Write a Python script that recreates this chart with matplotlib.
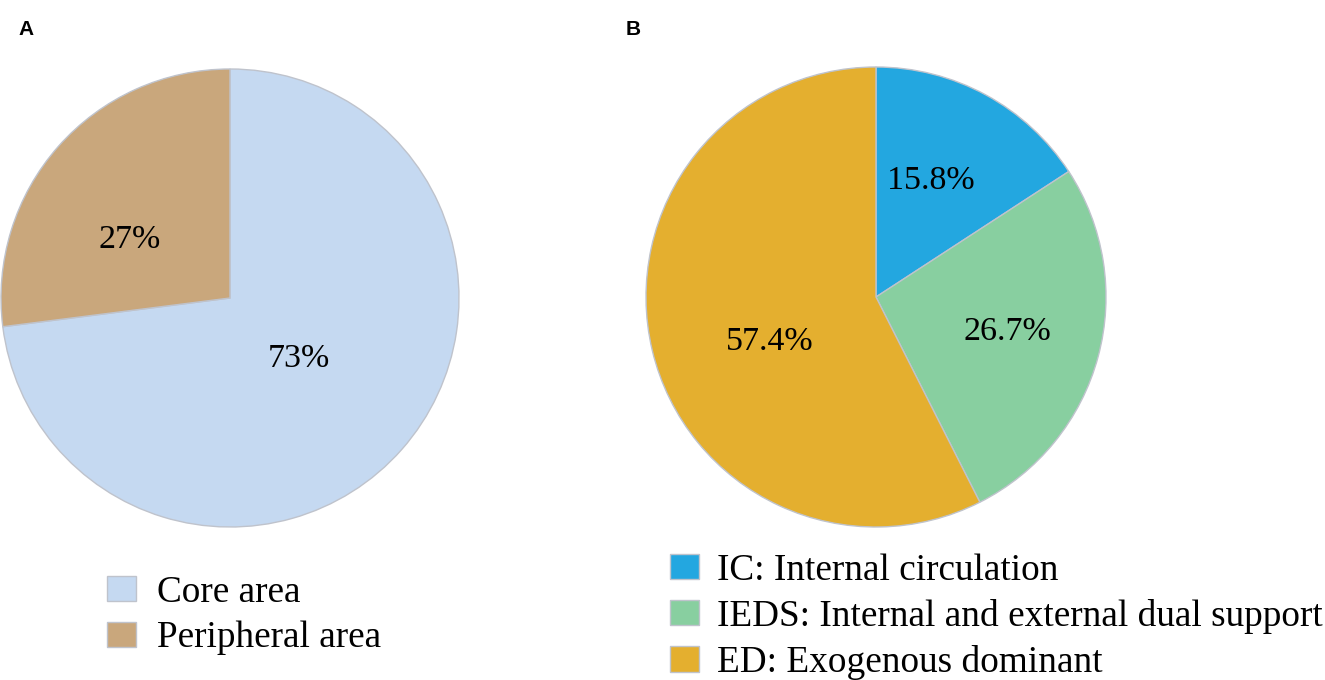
import numpy as np
import matplotlib
matplotlib.use("Agg")
import matplotlib.pyplot as plt

# ---- data ----
a_labels = ["Core area", "Peripheral area"]
a_values = [73, 27]
a_texts = ["73%", "27%"]

b_labels = ["IC: Internal circulation",
            "IEDS: Internal and external dual support",
            "ED: Exogenous dominant"]
b_values = [15.8, 26.7, 57.4]
b_texts = ["15.8%", "26.7%", "57.4%"]

# ---- style ----
a_colors = ["#C5D9F1", "#C9A77C"]
b_colors = ["#23A7E0", "#88CFA0", "#E4AF2F"]
edge = "#BFC3CC"
serif = ["Liberation Serif", "DejaVu Serif"]
FS_PIE = 24.5
FS_LEG = 26.8

W, H = 1325, 680
fig = plt.figure(figsize=(W / 100, H / 100), dpi=100)


def make_ax(cx, cy, r):
    return fig.add_axes([(cx - r) / W, (H - cy - r) / H, 2 * r / W, 2 * r / H])


def draw_pie(ax, values, colors, texts, dists, shifts):
    wedges, _ = ax.pie(values, colors=colors, startangle=90, counterclock=False,
                       wedgeprops=dict(edgecolor=edge, linewidth=1.0))
    for w, t, d, s in zip(wedges, texts, dists, shifts):
        ang = np.deg2rad((w.theta1 + w.theta2) / 2 + s)
        ax.text(d * np.cos(ang), d * np.sin(ang), t, ha="center", va="center",
                fontsize=FS_PIE, family=serif, color="black")
    ax.set_xlim(-1, 1)
    ax.set_ylim(-1, 1)
    ax.set_aspect("equal")
    return wedges


axA = make_ax(230, 298, 229)
wA = draw_pie(axA, a_values, a_colors, a_texts, [0.40, 0.505], [0, 11.3])

axB = make_ax(876, 297, 230)
wB = draw_pie(axB, b_values, b_colors, b_texts, [0.56, 0.59, 0.50], [3.4, 0, 9.3])

fig.text(18 / W, 1 - 20 / H, "A", fontsize=15, fontweight="bold",
         family=["Liberation Sans", "DejaVu Sans"], ha="left", va="top")
fig.text(626 / W, 1 - 20 / H, "B", fontsize=15, fontweight="bold",
         family=["Liberation Sans", "DejaVu Sans"], ha="left", va="top")

px = FS_LEG * 100 / 72  # font size in pixels
leg_kw = dict(frameon=False, loc="upper left", borderpad=0, borderaxespad=0,
              handlelength=29 / px, handleheight=25 / px,
              labelspacing=0.305, prop=dict(family=serif, size=FS_LEG))
fig.legend(wA, a_labels, bbox_to_anchor=(107 / W, 1 - 575 / H),
           handletextpad=21 / px, **leg_kw)
fig.legend(wB, b_labels, bbox_to_anchor=(670 / W, 1 - 553 / H),
           handletextpad=18 / px, **leg_kw)

fig.savefig("out.png", dpi=100)
